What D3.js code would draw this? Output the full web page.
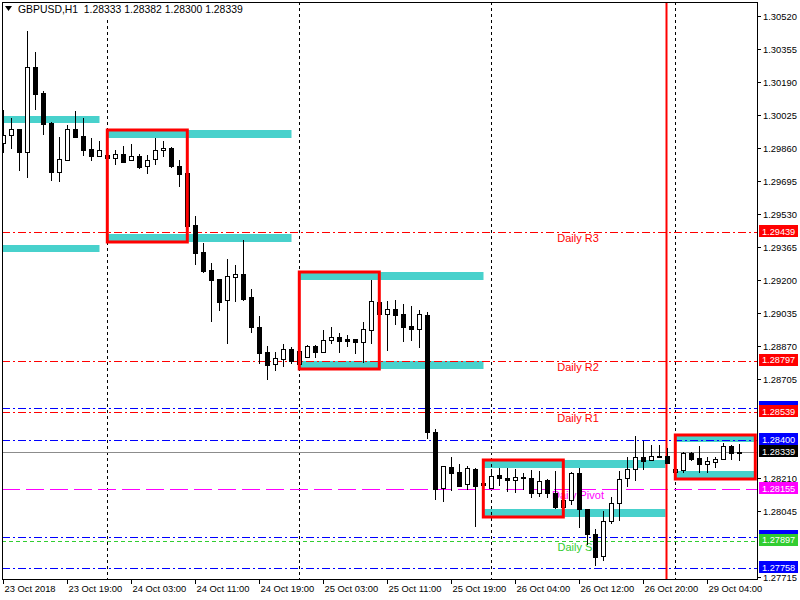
<!DOCTYPE html>
<html><head><meta charset="utf-8">
<script src="https://cdn.jsdelivr.net/npm/d3@7"></script>
<style>
body{margin:0;background:#fff}
svg{display:block}
text{font-family:"Liberation Sans",Arial,sans-serif}
</style>
</head><body>
<svg id="c" width="800" height="600"></svg>
<script>
// ---------------- DATA ----------------
const titleText = "GBPUSD,H1  1.28333 1.28382 1.28300 1.28339";

const opens  = [1.29885,1.29924,1.29955,1.29842,1.30264,1.30135,1.29985,1.29742,1.29799,1.29954,
                1.29919,1.29854,1.29822,1.29825,1.29812,1.29829,1.29799,1.29819,1.29769,1.29804,
                1.29849,1.29860,1.29769,1.29735,1.29474,1.29340,1.29249,1.29205,1.29099,1.29214,
                1.29230,1.29115,1.28965,1.28840,1.28779,1.28807,1.28854,1.28779,1.28817,1.28869,
                1.28842,1.28902,1.28914,1.28905,1.28905,1.28892,1.28952,1.29090,1.29032,1.29054,
                1.29030,1.28970,1.28957,1.29025,1.28439,1.28162,1.28265,1.28239,1.28179,1.28254,
                1.28185,1.28159,1.28227,1.28209,1.28199,1.28215,1.28209,1.28134,1.28199,1.28135,
                1.28067,1.28099,1.28234,1.28054,1.27929,1.27822,1.27994,1.28084,1.28209,1.28254,
                1.28317,1.28299,1.28322,1.28322,1.28239,1.28250,1.28334,1.28309,1.28279,1.28292,
                1.28304,1.28369,1.28333];
const highs  = [1.30050,1.30010,1.29955,1.30445,1.30340,1.30145,1.29992,1.29917,1.29974,1.30045,
                1.30010,1.29910,1.29895,1.29825,1.29850,1.29870,1.29880,1.29829,1.29824,1.29910,
                1.29894,1.29865,1.29800,1.29840,1.29520,1.29384,1.29284,1.29205,1.29305,1.29275,
                1.29400,1.29155,1.29020,1.28870,1.28839,1.28880,1.28867,1.28884,1.28874,1.28874,
                1.28950,1.28964,1.28935,1.28924,1.28907,1.28990,1.29200,1.29165,1.29094,1.29099,
                1.29080,1.29070,1.29050,1.29039,1.28454,1.28269,1.28315,1.28282,1.28272,1.28259,
                1.28210,1.28255,1.28260,1.28259,1.28254,1.28237,1.28249,1.28245,1.28204,1.28244,
                1.28130,1.28239,1.28259,1.28054,1.27954,1.28044,1.28117,1.28244,1.28314,1.28420,
                1.28394,1.28374,1.28374,1.28360,1.28265,1.28342,1.28342,1.28370,1.28314,1.28314,
                1.28387,1.28374,1.28382];
const lows   = [1.29842,1.29862,1.29750,1.29717,1.30057,1.29932,1.29702,1.29697,1.29799,1.29917,
                1.29827,1.29802,1.29822,1.29730,1.29780,1.29792,1.29799,1.29760,1.29737,1.29782,
                1.29822,1.29764,1.29672,1.29460,1.29280,1.29239,1.28995,1.29050,1.28887,1.29097,
                1.29100,1.28939,1.28787,1.28704,1.28750,1.28770,1.28787,1.28767,1.28817,1.28817,
                1.28842,1.28885,1.28840,1.28870,1.28835,1.28792,1.28884,1.28955,1.28850,1.28980,
                1.28895,1.28899,1.28865,1.28409,1.28105,1.28094,1.28150,1.28172,1.28157,1.27972,
                1.28110,1.28159,1.28174,1.28147,1.28142,1.28155,1.28117,1.28122,1.28117,1.28062,
                1.28064,1.28079,1.27967,1.27879,1.27774,1.27799,1.27984,1.27999,1.28170,1.28199,
                1.28254,1.28299,1.28314,1.28284,1.28230,1.28239,1.28300,1.28239,1.28239,1.28267,
                1.28304,1.28307,1.28300];
const closes = [1.29925,1.29954,1.29842,1.30264,1.30132,1.29982,1.29742,1.29804,1.29954,1.29917,
                1.29852,1.29822,1.29849,1.29812,1.29829,1.29792,1.29819,1.29767,1.29799,1.29849,
                1.29860,1.29769,1.29732,1.29470,1.29337,1.29247,1.29202,1.29092,1.29220,1.29230,
                1.29105,1.28967,1.28837,1.28777,1.28809,1.28854,1.28794,1.28845,1.28869,1.28842,
                1.28899,1.28914,1.28897,1.28897,1.28890,1.28954,1.29094,1.29030,1.29054,1.29025,
                1.28967,1.28955,1.29030,1.28439,1.28157,1.28269,1.28237,1.28172,1.28259,1.28172,
                1.28175,1.28222,1.28209,1.28199,1.28214,1.28209,1.28134,1.28194,1.28134,1.28067,
                1.28102,1.28234,1.28054,1.27929,1.27817,1.27994,1.28084,1.28204,1.28254,1.28314,
                1.28294,1.28319,1.28314,1.28284,1.28254,1.28334,1.28307,1.28279,1.28294,1.28304,
                1.28370,1.28337,1.28339];

const timeLabels   = ["23 Oct 2018","23 Oct 19:00","24 Oct 03:00","24 Oct 11:00","24 Oct 19:00",
                      "25 Oct 03:00","25 Oct 11:00","25 Oct 19:00","26 Oct 04:00","26 Oct 12:00",
                      "26 Oct 20:00","29 Oct 04:00"];
const timeLabelBar = [0,8,16,24,32,40,48,56,64,72,80,88];
const daySeparatorBar = [13,37,61,84];
const markerLineBar = 82.9;

// price scale ticks (those hidden under price tags in the reference are left out)
const priceTicks = [1.30520,1.30355,1.30190,1.30025,1.29860,1.29695,1.29530,1.29365,1.29200,
                    1.29035,1.28870,1.28705,1.28210,1.28045,1.27715];

// pivot levels (named)
const pivotNames  = ["Daily R3","Daily R2","Daily R1","Daily Pivot","Daily S1"];
const pivotValues = [1.29439,1.28797,1.28539,1.28155,1.27897];
// other (unnamed) blue levels
const blueLevels  = [1.28559,1.28400,1.27913,1.27758];
const bidPrice = 1.28339;

// price tags on the right scale
const tagPrices = [1.29439,1.28797,1.28559,1.28539,1.28400,1.28339,1.28155,1.27913,1.27897,1.27758];
const tagShowText = [true,true,false,true,true,true,true,false,true,true];

// zones: [startBar, endBar, topPrice, bottomPrice]
const zoneStart  = [0,0,13,13,37,37,60,60,84,84];
const zoneEnd    = [12,12,36,36,60,60,82.7,82.7,94,94];
const zoneTop    = [1.30020,1.29375,1.29950,1.29430,1.29240,1.28795,1.28300,1.28055,1.28425,1.28245];
const zoneBottom = [1.29985,1.29340,1.29912,1.29390,1.29200,1.28755,1.28260,1.28015,1.28390,1.28205];

// boxes: [startBar, endBar, topPrice, bottomPrice]
const boxStart  = [13,37,60,84];
const boxEnd    = [23,47,70,94];
const boxTop    = [1.29950,1.29240,1.28300,1.28425];
const boxBottom = [1.29390,1.28755,1.28015,1.28205];

// ---------------- STYLE ----------------
const pivotColors = ["#ff0000","#ff0000","#ff0000","#ff00ff","#32cd32"];
const pivotDash   = ["8,3,2,3","8,3,2,3","8,3,2,3","18,6","4,3"];
const blueColor = "#0000ff";
const zoneColor = "#48d1cc";
const tagColors = ["#ff0000","#ff0000",blueColor,"#ff0000",blueColor,"#000000","#ff00ff",blueColor,"#32cd32",blueColor];

// ---------------- CHART ----------------
const svg = d3.select("#c");
const L = 2, R = 757, T = 2, B = 579;

const x = d3.scaleLinear().domain([0, 94]).range([3.3, 755.3]);
const y = d3.scaleLinear().domain([1.27715, 1.30520]).range([577, 16]);
const px = v => Math.round(x(v)) + 0.5;
const py = v => Math.round(y(v)) + 0.5;

svg.append("defs").append("clipPath").attr("id","clip")
  .append("rect").attr("x",L).attr("y",T).attr("width",R-L).attr("height",B-T);

const plot = svg.append("g").attr("clip-path","url(#clip)");

// zones
plot.append("g").selectAll("rect").data(zoneStart).join("rect")
  .attr("x",(d,i)=>Math.round(x(zoneStart[i]))-0.5)
  .attr("width",(d,i)=>Math.round(x(zoneEnd[i]))-Math.round(x(zoneStart[i]))+1)
  .attr("y",(d,i)=>Math.round(y(zoneTop[i])))
  .attr("height",(d,i)=>Math.round(y(zoneBottom[i]))-Math.round(y(zoneTop[i])))
  .attr("fill",zoneColor);

// day separators
plot.append("g").selectAll("line").data(daySeparatorBar).join("line")
  .attr("x1",d=>px(d)).attr("x2",d=>px(d)).attr("y1",T).attr("y2",B)
  .attr("stroke","#000").attr("stroke-width",1).attr("stroke-dasharray","3,3");

// blue levels
plot.append("g").selectAll("line").data(blueLevels).join("line")
  .attr("x1",L).attr("x2",R).attr("y1",d=>py(d)).attr("y2",d=>py(d))
  .attr("stroke",blueColor).attr("stroke-width",1).attr("stroke-dasharray","8,3,2,3");

// pivot levels
plot.append("g").selectAll("line").data(pivotValues).join("line")
  .attr("x1",L).attr("x2",R).attr("y1",d=>py(d)).attr("y2",d=>py(d))
  .attr("stroke",(d,i)=>pivotColors[i]).attr("stroke-width",1)
  .attr("stroke-dasharray",(d,i)=>pivotDash[i]);

// bid line
plot.append("line").attr("x1",L).attr("x2",R).attr("y1",py(bidPrice)).attr("y2",py(bidPrice))
  .attr("stroke","#8c8c8c").attr("stroke-width",1);

// pivot names
plot.append("g").selectAll("text").data(pivotNames).join("text")
  .attr("x",578).attr("y",(d,i)=>y(pivotValues[i])+10)
  .attr("text-anchor","middle").attr("font-size",11)
  .attr("fill",(d,i)=>pivotColors[i]).text(d=>d);

// marker red vertical line
plot.append("line").attr("x1",x(markerLineBar)).attr("x2",x(markerLineBar))
  .attr("y1",T).attr("y2",B).attr("stroke","#ff0000").attr("stroke-width",2);

// candles
const bars = d3.range(opens.length);
const cg = plot.append("g");
cg.selectAll("line").data(bars).join("line")
  .attr("x1",i=>px(i)).attr("x2",i=>px(i))
  .attr("y1",i=>Math.round(y(highs[i]))).attr("y2",i=>Math.round(y(lows[i]))+1)
  .attr("stroke","#000").attr("stroke-width",1);
cg.selectAll("rect").data(bars).join("rect")
  .attr("x",i=>px(i)-2).attr("width",4)
  .attr("y",i=>Math.round(y(Math.max(opens[i],closes[i])))+0.5)
  .attr("height",i=>Math.max(1,Math.round(y(Math.min(opens[i],closes[i])))-Math.round(y(Math.max(opens[i],closes[i])))))
  .attr("fill",i=>closes[i]>=opens[i]?"#fff":"#000")
  .attr("stroke","#000").attr("stroke-width",1);

// boxes
plot.append("g").selectAll("rect").data(boxStart).join("rect")
  .attr("x",(d,i)=>x(boxStart[i]))
  .attr("width",(d,i)=>x(boxEnd[i])-x(boxStart[i]))
  .attr("y",(d,i)=>y(boxTop[i]))
  .attr("height",(d,i)=>y(boxBottom[i])-y(boxTop[i]))
  .attr("fill","none").attr("stroke","#ff0000").attr("stroke-width",3);

// frame
svg.append("rect").attr("x",L+0.5).attr("y",T+0.5).attr("width",R-L).attr("height",B-T)
  .attr("fill","none").attr("stroke","#000").attr("stroke-width",1);

// title
svg.append("rect").attr("x",3).attr("y",3).attr("width",228).attr("height",14).attr("fill","#fff");
svg.append("path").attr("d","M5,6 L12,6 L8.5,11 Z").attr("fill","#000");
svg.append("text").attr("x",18).attr("y",13).attr("font-size",10.4).attr("fill","#000")
  .attr("xml:space","preserve").style("white-space","pre").text(titleText);

// right price axis
const ya = svg.append("g");
ya.selectAll("line").data(priceTicks).join("line")
  .attr("x1",R).attr("x2",R+4).attr("y1",d=>py(d)).attr("y2",d=>py(d))
  .attr("stroke","#000");
ya.selectAll("text").data(priceTicks).join("text")
  .attr("x",763).attr("y",d=>y(d)+4).attr("font-size",9.4).attr("fill","#000")
  .text(d=>d.toFixed(5));

// coloured price tags
const tags = ya.append("g").selectAll("g").data(tagPrices).join("g");
tags.append("rect").attr("x",759).attr("width",39).attr("y",d=>Math.round(y(d))-7).attr("height",12)
  .attr("fill",(d,i)=>tagColors[i]);
tags.filter((d,i)=>tagShowText[i]).append("text")
  .attr("x",762).attr("y",d=>y(d)+2.5).attr("font-size",9.2).attr("fill","#fff")
  .text(d=>d.toFixed(5));

// bottom time axis
const xa = svg.append("g");
xa.selectAll("line").data(timeLabelBar).join("line")
  .attr("x1",d=>px(d)).attr("x2",d=>px(d)).attr("y1",B).attr("y2",B+5).attr("stroke","#000");
xa.selectAll("text").data(timeLabels).join("text")
  .attr("x",(d,i)=>px(timeLabelBar[i])+1).attr("y",592).attr("font-size",9.4).attr("fill","#000")
  .text(d=>d);
</script>
</body></html>
